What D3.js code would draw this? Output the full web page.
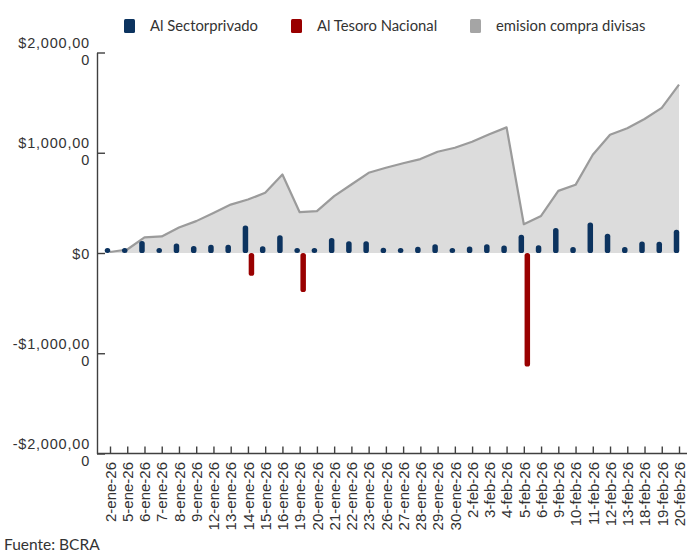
<!DOCTYPE html>
<html><head><meta charset="utf-8">
<script src="https://cdn.jsdelivr.net/npm/d3@7"></script>
<style>body{margin:0;background:#fff}</style>
</head><body><svg id="c" width="687" height="552"></svg>
<script>
const categories = ["2-ene-26","5-ene-26","6-ene-26","7-ene-26","8-ene-26","9-ene-26","12-ene-26","13-ene-26","14-ene-26","15-ene-26","16-ene-26","19-ene-26","20-ene-26","21-ene-26","22-ene-26","23-ene-26","26-ene-26","27-ene-26","28-ene-26","29-ene-26","30-ene-26","2-feb-26","3-feb-26","4-feb-26","5-feb-26","6-feb-26","9-feb-26","10-feb-26","11-feb-26","12-feb-26","13-feb-26","18-feb-26","19-feb-26","20-feb-26"];
const sectorPrivado = [5,25,120,12,95,70,82,83,275,67,178,30,10,150,117,117,52,48,62,88,33,65,88,75,183,77,250,60,305,193,60,115,112,233];
const tesoroNacional = [null,null,null,null,null,null,null,null,-227,null,null,-390,null,null,null,null,null,null,null,null,null,null,null,null,-1133,null,null,null,null,null,null,null,null,null];
const emisionCompraDivisas = [10,35,155,165,255,318,400,483,533,600,783,407,417,567,683,800,850,895,937,1010,1050,1110,1185,1253,287,370,620,680,980,1180,1245,1337,1447,1680];
const yTicks = [2000,1000,0,-1000,-2000];
const yTickLabels = [["$2,000,00","0"],["$1,000,00","0"],["$0"],["-$1,000,00","0"],["-$2,000,00","0"]];
const seriesNames = ["Al Sectorprivado","Al Tesoro Nacional","emision compra divisas"];
const seriesColors = ["#0c335f","#990000","#a5a5a5"];

const svg = d3.select("#c");
const x = d3.scalePoint().domain(categories).range([110, 679]);
const y = d3.scaleLinear().domain([-2000, 2000]).range([453.5, 52.5]);
const axisX = 97, axisY = y(-2000);

// area
const rows = categories.map((c, i) => ({c, e: emisionCompraDivisas[i], p: sectorPrivado[i], t: tesoroNacional[i]}));
svg.append("path").datum(rows)
  .attr("d", d3.area().x(d => x(d.c)).y0(y(0)).y1(d => y(d.e)))
  .attr("fill", "#dcdcdc");
svg.append("path").datum(rows)
  .attr("d", d3.line().x(d => x(d.c)).y(d => y(d.e)))
  .attr("fill", "none").attr("stroke", "#9b9b9b").attr("stroke-width", 2.2).attr("stroke-linejoin", "round");

// bars
const bw = 5.5;
function bar(sel, acc, off, color) {
  sel.selectAll(null).data(rows.filter(d => acc(d) != null)).enter().append("rect")
    .attr("x", d => x(d.c) + off - bw / 2)
    .attr("width", bw)
    .attr("y", d => { const h = Math.max(Math.abs(y(acc(d)) - y(0)), 5); return acc(d) >= 0 ? y(0) - h : y(0); })
    .attr("height", d => Math.max(Math.abs(y(acc(d)) - y(0)), 5))
    .attr("rx", 2.6).attr("fill", color);
}
bar(svg, d => d.p, -2.5, seriesColors[0]);
bar(svg, d => d.t, 3.5, seriesColors[1]);

// y axis
const gy = svg.append("g").attr("transform", `translate(${axisX},0)`)
  .call(d3.axisLeft(y).tickValues(yTicks).tickSizeInner(-8).tickSizeOuter(0).tickPadding(7).tickFormat(""));
gy.select(".domain").attr("stroke", "#404040").attr("stroke-width", 1.4);
gy.selectAll(".tick line").attr("stroke", "#404040").attr("stroke-width", 1.4);
gy.selectAll(".tick").each(function(d) {
  const g = d3.select(this);
  g.select("text").remove();
  const lines = yTickLabels[yTicks.indexOf(d)];
  const ys = lines.length === 1 ? [5.5] : [-5, 12.2];
  lines.forEach((ln, j) => {
    g.append("text").attr("x", -7).attr("y", ys[j]).text(ln)
      .attr("font-family", "Liberation Sans, Arial, sans-serif").attr("font-size", 14.5)
      .attr("letter-spacing", 0.8).attr("fill", "#333").attr("text-anchor", "end");
  });
});

// x axis
const gx = svg.append("g").attr("transform", `translate(0,${axisY})`)
  .call(d3.axisBottom(x).tickSizeInner(-7).tickSizeOuter(0).tickPadding(0));
gx.select(".domain").remove();
gx.append("line").attr("x1", axisX).attr("x2", 687).attr("stroke", "#404040").attr("stroke-width", 1.4);
gx.selectAll(".tick line").attr("stroke", "#404040").attr("stroke-width", 1.4);
gx.selectAll(".tick text")
  .attr("transform", "rotate(-90)")
  .attr("text-anchor", "end")
  .attr("x", -8.5).attr("y", 0).attr("dy", "0.35em")
  .attr("font-family", "Liberation Sans, Arial, sans-serif").attr("font-size", 15).attr("fill", "#333");

// legend
const legX = [124, 291, 470];
const lg = svg.append("g");
seriesNames.forEach((n, i) => {
  lg.append("rect").attr("x", legX[i]).attr("y", 19).attr("width", 11).attr("height", 14).attr("rx", 1.5).attr("fill", seriesColors[i]);
  lg.append("text").attr("x", legX[i] + 26).attr("y", 31).text(n)
    .attr("font-family", "Lato, sans-serif").attr("font-size", 14.8).attr("fill", "#333");
});

svg.append("text").attr("x", 4).attr("y", 550).text("Fuente: BCRA")
  .attr("font-family", "Lato, sans-serif").attr("font-size", 15.5).attr("fill", "#333");
</script></body></html>
